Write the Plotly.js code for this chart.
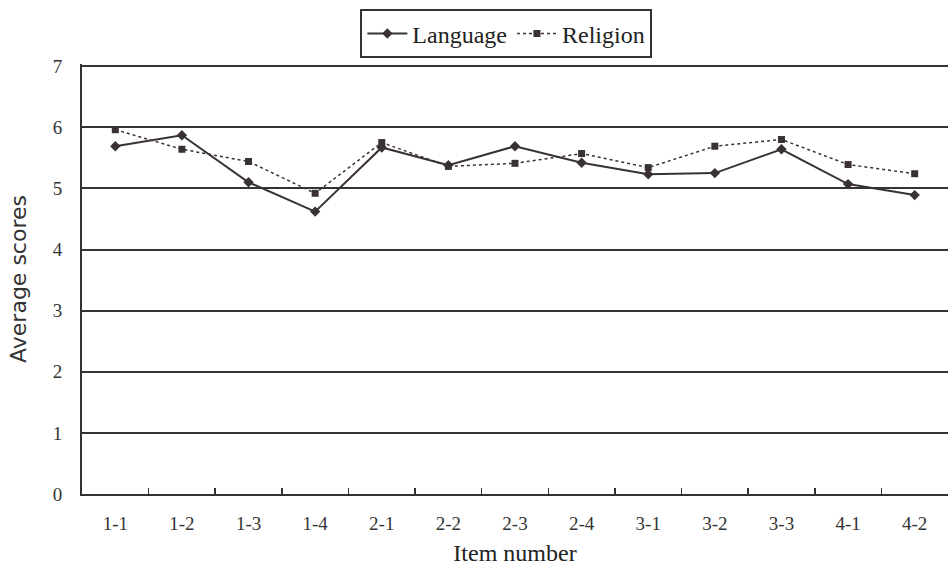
<!DOCTYPE html>
<html>
<head>
<meta charset="utf-8">
<script src="https://cdn.plot.ly/plotly-3.0.1.min.js"></script>
<style>html,body{margin:0;padding:0;background:#fff;}#chart{width:948px;height:571px;}</style>
</head>
<body>
<div id="chart"></div>
<script>
const items = ["1-1","1-2","1-3","1-4","2-1","2-2","2-3","2-4","3-1","3-2","3-3","4-1","4-2"];
const language = [5.69,5.87,5.10,4.62,5.67,5.38,5.69,5.42,5.23,5.25,5.64,5.07,4.89];
const religion = [5.96,5.64,5.44,4.92,5.75,5.36,5.41,5.57,5.34,5.69,5.80,5.39,5.24];
const yTicks = [0,1,2,3,4,5,6,7];

const ink = "#3a3232";
const serif = "'Liberation Serif', 'Times New Roman', serif";

const traces = [
  {x: items, y: language, name: "Language", type: "scatter", mode: "lines+markers",
   line: {color: ink, width: 2}, marker: {symbol: "diamond", size: 8, color: ink}},
  {x: items, y: religion, name: "Religion", type: "scatter", mode: "lines+markers",
   line: {color: ink, width: 1.5, dash: "dot"}, marker: {symbol: "square", size: 7, color: ink}}
];

const layout = {
  width: 948, height: 571,
  margin: {l: 82, r: 0, t: 64, b: 77},
  paper_bgcolor: "#fff", plot_bgcolor: "#fff",
  font: {family: serif, color: "#222", size: 19},
  showlegend: true,
  legend: {orientation: "h", x: 0.49, xanchor: "center", y: 1.07, yanchor: "middle",
           bordercolor: "#333", borderwidth: 2, font: {family: serif, size: 24, color: "#222"},
           itemwidth: 40, tracegroupgap: 0},
  xaxis: {type: "category", range: [-0.5, 12.5], showline: true, linecolor: "#333", linewidth: 2,
          ticks: "inside", tickson: "boundaries", ticklen: 6, tickcolor: "#333", tickwidth: 1.5,
          showgrid: false, zeroline: false, tickfont: {family: serif, size: 19, color: "#333"},
          ticklabelstandoff: 11,
          title: {text: "Item number", font: {family: serif, size: 24, color: "#222"}, standoff: 11}},
  yaxis: {range: [0, 7.035], tickvals: yTicks, showline: true, linecolor: "#333", linewidth: 2,
          showgrid: true, gridcolor: "#333", gridwidth: 2, zeroline: false, ticks: "",
          tickfont: {family: serif, size: 19, color: "#333"}, ticklabelstandoff: 14,
          title: {text: "Average scores", font: {family: "'DejaVu Sans', sans-serif", size: 22, color: "#333"}, standoff: 20}}
};

Plotly.newPlot("chart", traces, layout, {displayModeBar: false, staticPlot: true});
</script>
</body>
</html>
